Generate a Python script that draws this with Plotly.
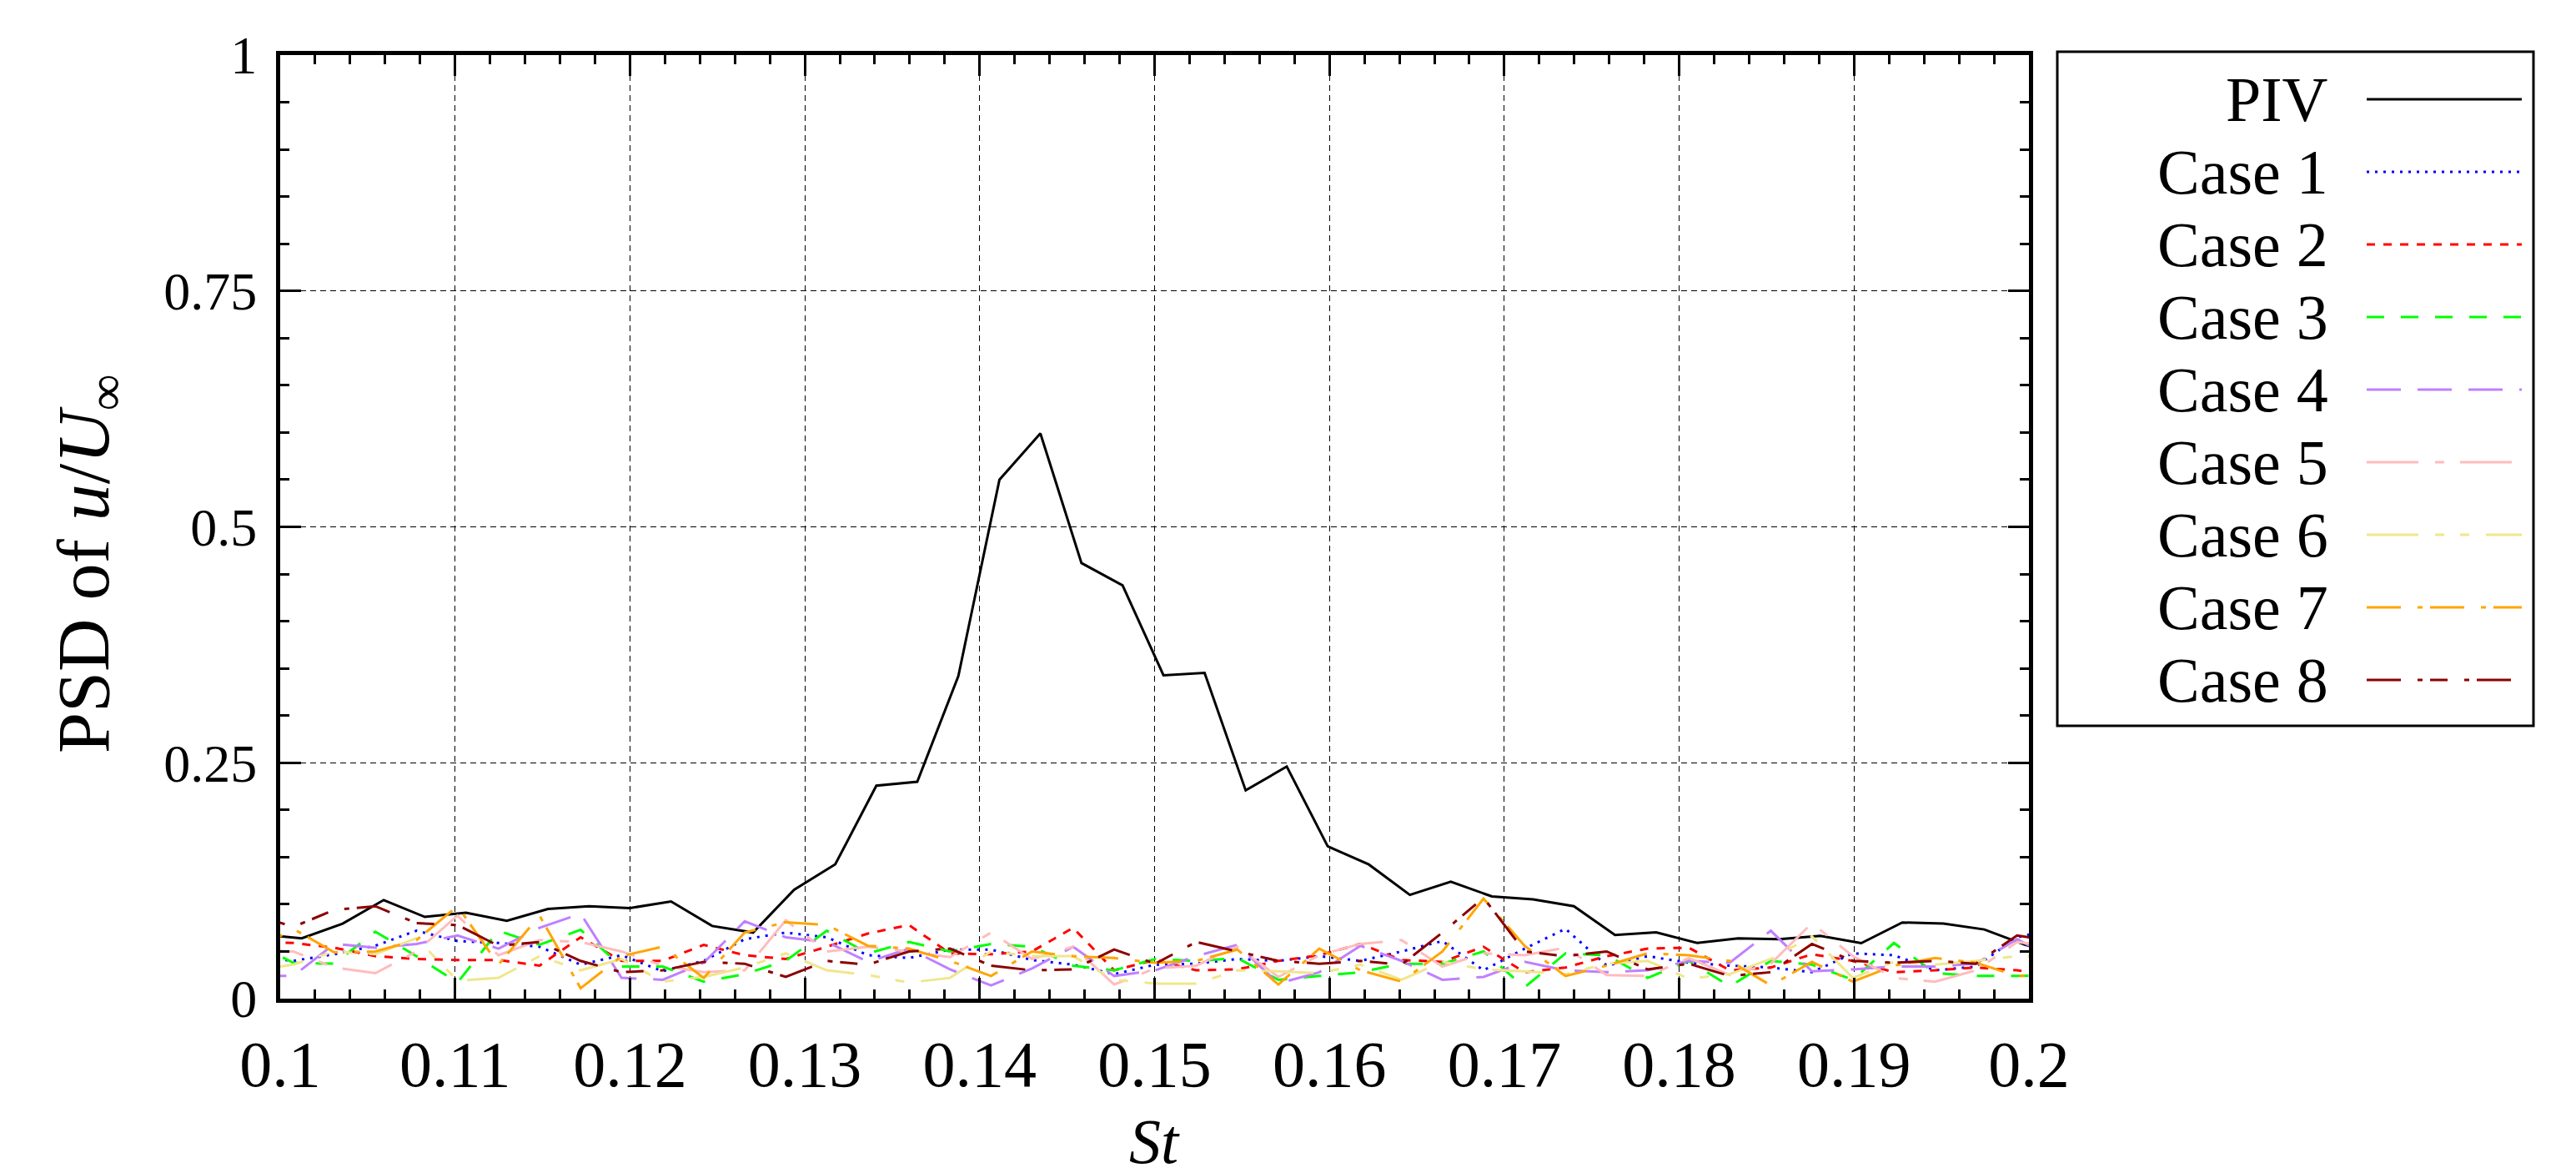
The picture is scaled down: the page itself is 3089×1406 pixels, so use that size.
import plotly.graph_objects as go

# ---------------- data ----------------
st_piv = [0.09888, 0.10123, 0.10357, 0.10592, 0.10827, 0.11062, 0.11296, 0.11531, 0.11766, 0.12000,
          0.12235, 0.12470, 0.12704, 0.12939, 0.13174, 0.13409, 0.13643, 0.13878, 0.14113, 0.14347,
          0.14582, 0.14817, 0.15051, 0.15286, 0.15521, 0.15756, 0.15990, 0.16225, 0.16460, 0.16694,
          0.16929, 0.17164, 0.17398, 0.17633, 0.17868, 0.18103, 0.18337, 0.18572, 0.18807, 0.19041,
          0.19276, 0.19511, 0.19745, 0.19980, 0.20215]

st_cases = [0.09840, 0.10075, 0.10309, 0.10544, 0.10779, 0.11014, 0.11248, 0.11483, 0.11718, 0.11952,
            0.12187, 0.12422, 0.12656, 0.12891, 0.13126, 0.13361, 0.13595, 0.13830, 0.14065, 0.14299,
            0.14534, 0.14769, 0.15003, 0.15238, 0.15473, 0.15708, 0.15942, 0.16177, 0.16412, 0.16646,
            0.16881, 0.17116, 0.17350, 0.17585, 0.17820, 0.18055, 0.18289, 0.18524, 0.18759, 0.18993,
            0.19228, 0.19463, 0.19697, 0.19932, 0.20167]

psd_piv = [0.068, 0.064, 0.0795, 0.1045, 0.0866, 0.091, 0.0825, 0.095, 0.098, 0.096,
           0.103, 0.077, 0.070, 0.1155, 0.1423, 0.2257, 0.2298, 0.342, 0.550, 0.599,
           0.4616, 0.438, 0.3427, 0.3453, 0.2207, 0.246, 0.1614, 0.1422, 0.110, 0.124,
           0.1083, 0.1053, 0.098, 0.0674, 0.0703, 0.059, 0.0638, 0.0629, 0.0665, 0.0588,
           0.0807, 0.0795, 0.0733, 0.057, 0.045]

psd_case1 = [0.045, 0.040, 0.047, 0.056, 0.072, 0.061, 0.059, 0.055, 0.036, 0.046,
             0.029, 0.040, 0.063, 0.070, 0.065, 0.046, 0.043, 0.052, 0.052, 0.041,
             0.036, 0.026, 0.036, 0.037, 0.042, 0.040, 0.045, 0.040, 0.050, 0.061,
             0.030, 0.053, 0.074, 0.035, 0.045, 0.038, 0.035, 0.033, 0.028, 0.048,
             0.046, 0.030, 0.034, 0.065, 0.075]

psd_case2 = [0.060, 0.059, 0.054, 0.045, 0.042, 0.041, 0.041, 0.035, 0.065, 0.040,
             0.040, 0.057, 0.046, 0.042, 0.055, 0.069, 0.078, 0.048, 0.047, 0.050,
             0.075, 0.030, 0.041, 0.030, 0.031, 0.040, 0.046, 0.058, 0.041, 0.039,
             0.055, 0.028, 0.033, 0.045, 0.053, 0.054, 0.030, 0.033, 0.047, 0.040,
             0.028, 0.030, 0.033, 0.030, 0.025]

psd_case3 = [0.060, 0.038, 0.037, 0.071, 0.045, 0.017, 0.072, 0.057, 0.073, 0.034,
             0.034, 0.018, 0.026, 0.040, 0.072, 0.048, 0.060, 0.050, 0.058, 0.055,
             0.035, 0.030, 0.042, 0.040, 0.043, 0.020, 0.024, 0.028, 0.037, 0.037,
             0.050, 0.012, 0.048, 0.046, 0.022, 0.040, 0.013, 0.040, 0.036, 0.020,
             0.059, 0.027, 0.024, 0.024, 0.025]

psd_case4 = [0.024, 0.024, 0.058, 0.054, 0.058, 0.067, 0.053, 0.075, 0.090, 0.022,
             0.020, 0.038, 0.082, 0.065, 0.060, 0.039, 0.053, 0.031, 0.014, 0.032,
             0.055, 0.024, 0.030, 0.045, 0.057, 0.016, 0.028, 0.056, 0.040, 0.020,
             0.023, 0.039, 0.030, 0.028, 0.030, 0.040, 0.038, 0.072, 0.029, 0.031,
             0.034, 0.034, 0.037, 0.063, 0.040]

psd_case5 = [0.052, 0.050, 0.033, 0.027, 0.050, 0.088, 0.046, 0.062, 0.060, 0.050,
             0.035, 0.028, 0.030, 0.083, 0.050, 0.055, 0.050, 0.044, 0.070, 0.042,
             0.055, 0.015, 0.032, 0.035, 0.055, 0.023, 0.046, 0.058, 0.062, 0.034,
             0.048, 0.046, 0.054, 0.025, 0.024, 0.043, 0.025, 0.037, 0.080, 0.045,
             0.022, 0.018, 0.030, 0.060, 0.055]

psd_case6 = [0.030, 0.036, 0.050, 0.047, 0.064, 0.019, 0.022, 0.045, 0.030, 0.042,
             0.018, 0.023, 0.033, 0.048, 0.030, 0.025, 0.017, 0.022, 0.050, 0.045,
             0.045, 0.020, 0.016, 0.016, 0.030, 0.029, 0.027, 0.036, 0.020, 0.039,
             0.031, 0.029, 0.026, 0.037, 0.040, 0.021, 0.026, 0.042, 0.066, 0.022,
             0.039, 0.036, 0.040, 0.045, 0.045]

psd_case7 = [0.050, 0.074, 0.049, 0.050, 0.062, 0.098, 0.036, 0.088, 0.011, 0.045,
             0.055, 0.022, 0.070, 0.081, 0.078, 0.056, 0.053, 0.040, 0.024, 0.050,
             0.045, 0.043, 0.038, 0.040, 0.052, 0.015, 0.053, 0.030, 0.018, 0.050,
             0.106, 0.056, 0.024, 0.035, 0.048, 0.046, 0.040, 0.014, 0.039, 0.018,
             0.035, 0.043, 0.038, 0.024, 0.025]

psd_case8 = [0.090, 0.076, 0.094, 0.098, 0.080, 0.078, 0.056, 0.060, 0.040, 0.028,
             0.030, 0.039, 0.037, 0.023, 0.040, 0.036, 0.050, 0.053, 0.035, 0.030,
             0.031, 0.052, 0.037, 0.060, 0.050, 0.040, 0.037, 0.040, 0.036, 0.070,
             0.107, 0.050, 0.045, 0.050, 0.031, 0.037, 0.024, 0.028, 0.058, 0.040,
             0.038, 0.040, 0.037, 0.067, 0.060]

series_names = ["PIV", "Case 1", "Case 2", "Case 3", "Case 4",
                "Case 5", "Case 6", "Case 7", "Case 8"]
x_ticks = [0.10, 0.11, 0.12, 0.13, 0.14, 0.15, 0.16, 0.17, 0.18, 0.19, 0.20]
x_ticktext = ["0.1", "0.11", "0.12", "0.13", "0.14", "0.15", "0.16", "0.17", "0.18", "0.19", "0.2"]
y_ticks = [0, 0.25, 0.5, 0.75, 1]
y_ticktext = ["0", "0.25", "0.5", "0.75", "1"]
x_title = "<i>St</i>"
y_title = "PSD of <i>u</i>/<i>U</i><sub>∞</sub>"

# ---------------- styles ----------------
colors = ["#000000", "#0000ff", "#ff0000", "#00ff00", "#bf80ff",
          "#ffbcbc", "#f0e68c", "#ffa500", "#8b0000"]
dashes = ["solid", "3px,7px", "10px,10px", "21px,20px", "41px,20px",
          "62px,20px,11px,19px", "62px,20px,11px,19px,11px,20px",
          "41px,20px,6px,9px", "41px,20px,6px,9px,21px,20px,6px,9px"]

FONT = "Liberation Serif, Times New Roman, serif"

all_x = [st_piv] + [st_cases] * 8
all_y = [psd_piv, psd_case1, psd_case2, psd_case3, psd_case4,
         psd_case5, psd_case6, psd_case7, psd_case8]

fig = go.Figure()
for name, xs, ys, c, d in zip(series_names, all_x, all_y, colors, dashes):
    fig.add_trace(go.Scatter(x=xs, y=ys, mode="lines", name=name,
                             line=dict(color=c, width=3, dash=d),
                             showlegend=False))

W, H = 3089, 1406
ML, MR, MT, MB = 328, 664, 58, 217

axis_common = dict(
    showline=True, linecolor="black", linewidth=5, mirror="allticks",
    ticks="inside", ticklen=25, tickwidth=3, tickcolor="black",
    showgrid=True, gridcolor="black", gridwidth=1, griddash="7px,5px",
    zeroline=False,
)

fig.update_xaxes(
    range=[0.1, 0.2], tickvals=x_ticks, ticktext=x_ticktext,
    tickfont=dict(family=FONT, size=78, color="black"),
    ticklabelstandoff=6,
    minor=dict(dtick=0.002, tick0=0.1, ticks="inside", ticklen=11,
               tickwidth=2.5, tickcolor="black", showgrid=False),
    **axis_common,
)
fig.update_yaxes(
    range=[0, 1], tickvals=y_ticks, ticktext=y_ticktext,
    tickfont=dict(family=FONT, size=64, color="black"),
    ticklabelstandoff=10,
    minor=dict(dtick=0.05, tick0=0, ticks="inside", ticklen=11,
               tickwidth=2.5, tickcolor="black", showgrid=False),
    **axis_common,
)


def px_to_paper_x(px):
    return (px - ML) / (W - ML - MR)


def px_to_paper_y(py):
    return (H - MB - py) / (H - MT - MB)


annotations = [
    # axis titles
    dict(xref="paper", yref="paper", x=0.5, y=px_to_paper_y(1360),
         xanchor="center", yanchor="middle", showarrow=False, text=x_title,
         font=dict(family=FONT, size=76, color="black")),
    dict(xref="paper", yref="paper", x=px_to_paper_x(98), y=px_to_paper_y(668),
         xanchor="center", yanchor="middle", showarrow=False, text=y_title,
         textangle=-90, font=dict(family=FONT, size=88, color="black")),
]

# ---------------- legend (text left of sample line, boxed) ----------------
shapes = [dict(type="rect", xref="paper", yref="paper",
               x0=px_to_paper_x(2459), x1=px_to_paper_x(3030),
               y0=px_to_paper_y(862), y1=px_to_paper_y(54),
               line=dict(color="black", width=3), fillcolor="white", layer="above")]
row0, row_step = 111, 87
for i, (name, c, d) in enumerate(zip(series_names, colors, dashes)):
    yc = px_to_paper_y(row0 + i * row_step)
    annotations.append(dict(xref="paper", yref="paper", x=px_to_paper_x(2786), y=yc,
                            xanchor="right", yanchor="middle", showarrow=False,
                            text=name, font=dict(family=FONT, size=76, color="black")))
    shapes.append(dict(type="line", xref="paper", yref="paper",
                       x0=px_to_paper_x(2830), x1=px_to_paper_x(3016), y0=yc, y1=yc,
                       line=dict(color=c, width=3, dash=d), layer="above"))

fig.update_layout(
    width=W, height=H, autosize=False,
    margin=dict(l=ML, r=MR, t=MT, b=MB, pad=0),
    paper_bgcolor="white", plot_bgcolor="white",
    font=dict(family=FONT, color="black"),
    shapes=shapes, annotations=annotations,
    showlegend=False,
)

fig.write_html("out.html")
